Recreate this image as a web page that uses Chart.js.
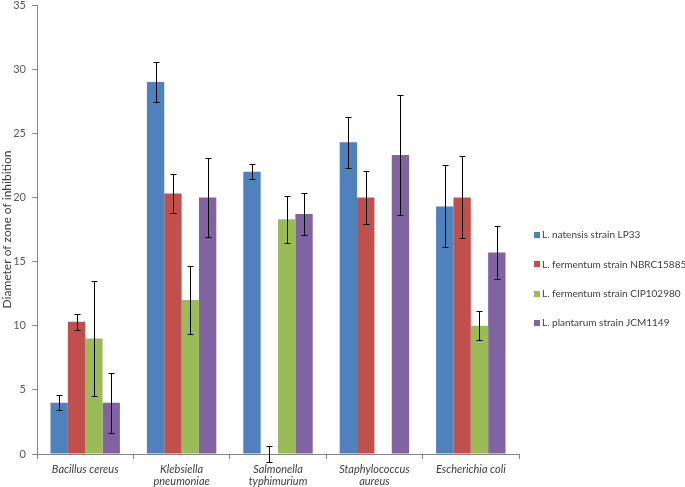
<!DOCTYPE html>
<html>
<head>
<meta charset="utf-8">
<script src="https://cdn.jsdelivr.net/npm/chart.js@4/dist/chart.umd.min.js"></script>
<style>
  html, body { margin: 0; padding: 0; background: #ffffff; }
  #wrap { width: 685px; height: 487px; position: relative; }
</style>
</head>
<body>
<div id="wrap"><canvas id="c" width="685" height="487"></canvas></div>
<script>
// ---- Data ----
const categories = [
  'Bacillus cereus',
  ['Klebsiella', 'pneumoniae'],
  ['Salmonella', 'typhimurium'],
  ['Staphylococcus', 'aureus'],
  'Escherichia coli'
];
const seriesNames = [
  'L. natensis strain LP33',
  'L. fermentum strain NBRC15885',
  'L. fermentum strain CIP102980',
  'L. plantarum strain JCM1149'
];
const natensisLP33 = [4.0, 29.0, 22.0, 24.3, 19.3];
const natensisLP33Err = [0.6, 1.55, 0.6, 2.0, 3.2];
const fermentumNBRC = [10.3, 20.3, 0, 20.0, 20.0];
const fermentumNBRCErr = [0.6, 1.55, 0.6, 2.05, 3.2];
const fermentumCIP = [9.0, 12.0, 18.3, null, 10.0];
const fermentumCIPErr = [4.5, 2.65, 1.85, null, 1.15];
const plantarumJCM = [4.0, 20.0, 18.7, 23.3, 15.7];
const plantarumJCMErr = [2.35, 3.05, 1.65, 4.65, 2.05];
const yTicks = [0, 5, 10, 15, 20, 25, 30, 35];
const yTitle = 'Diameter of zone of inhibition';

const colors = ['#4F81BD', '#C0504D', '#9BBB59', '#8064A2'];
const values = [natensisLP33, fermentumNBRC, fermentumCIP, plantarumJCM];
const errors = [natensisLP33Err, fermentumNBRCErr, fermentumCIPErr, plantarumJCMErr];

const FONT = 'Lato, "Open Sans", sans-serif';
const TEXT = '#404040';
const AXIS = '#868686';

const errorBarPlugin = {
  id: 'errorBars',
  afterDatasetsDraw(chart) {
    const ctx = chart.ctx;
    const y = chart.scales.y;
    ctx.save();
    ctx.strokeStyle = '#000000';
    ctx.lineWidth = 1;
    chart.data.datasets.forEach((ds, di) => {
      const meta = chart.getDatasetMeta(di);
      meta.data.forEach((bar, i) => {
        const v = ds.data[i];
        const e = ds.errors[i];
        if (v === null || e === null || e === undefined) return;
        const x = Math.round(bar.x) + 0.5;
        const yt = Math.round(y.getPixelForValue(v + e)) + 0.5;
        const yb = Math.round(y.getPixelForValue(v - e)) + 0.5;
        const cap = 3;
        ctx.beginPath();
        ctx.moveTo(x, yt); ctx.lineTo(x, yb);
        ctx.moveTo(x - cap, yt); ctx.lineTo(x + cap, yt);
        ctx.moveTo(x - cap, yb); ctx.lineTo(x + cap, yb);
        ctx.stroke();
      });
    });
    ctx.restore();
  }
};

const legendPlugin = {
  id: 'sideLegend',
  afterDraw(chart) {
    const ctx = chart.ctx;
    const a = chart.chartArea;
    ctx.save();
    ctx.font = '10px ' + FONT;
    ctx.textBaseline = 'middle';
    ctx.textAlign = 'left';
    chart.data.datasets.forEach((ds, i) => {
      const cy = a.top + 230 + i * 29.3;
      const x0 = a.right + 15;
      ctx.fillStyle = ds.backgroundColor;
      ctx.fillRect(x0, Math.round(cy - 3), 6, 6);
      ctx.fillStyle = TEXT;
      ctx.fillText(ds.label, x0 + 8, cy);
    });
    ctx.restore();
  }
};

new Chart(document.getElementById('c'), {
  type: 'bar',
  data: {
    labels: categories,
    datasets: seriesNames.map((name, i) => ({
      label: name,
      data: values[i],
      errors: errors[i],
      backgroundColor: colors[i],
      borderWidth: 0,
      categoryPercentage: 0.72,
      barPercentage: 1.0
    }))
  },
  options: {
    responsive: false,
    animation: false,
    devicePixelRatio: 1,
    layout: { padding: { top: 5, right: 166, bottom: 0, left: 0 } },
    plugins: {
      legend: { display: false },
      tooltip: { enabled: false }
    },
    scales: {
      x: {
        grid: { display: true, drawOnChartArea: false, drawTicks: true, tickLength: 5, color: AXIS, offset: true },
        border: { display: true, color: AXIS },
        ticks: {
          color: TEXT,
          font: { family: FONT, size: 11, style: 'italic', lineHeight: 1.05 },
          padding: 5,
          maxRotation: 0,
          autoSkip: false
        },
        afterFit(s) { s.height = 33; s.paddingLeft = 0; s.paddingRight = 0; }
      },
      y: {
        min: 0,
        max: 35,
        afterBuildTicks(s) { s.ticks = yTicks.map(v => ({ value: v })); },
        grid: { display: true, drawOnChartArea: false, drawTicks: true, tickLength: 5, color: AXIS },
        border: { display: true, color: AXIS },
        ticks: {
          color: '#595959',
          font: { family: FONT, size: 11 },
          padding: 6
        },
        title: {
          display: true,
          text: yTitle,
          color: TEXT,
          font: { family: FONT, size: 12 },
          padding: { top: 0, bottom: 0 }
        },
        afterFit(s) { s.width = 37; s.paddingTop = 0; s.paddingBottom = 0; }
      }
    }
  },
  plugins: [errorBarPlugin, legendPlugin]
});
</script>
</body>
</html>
